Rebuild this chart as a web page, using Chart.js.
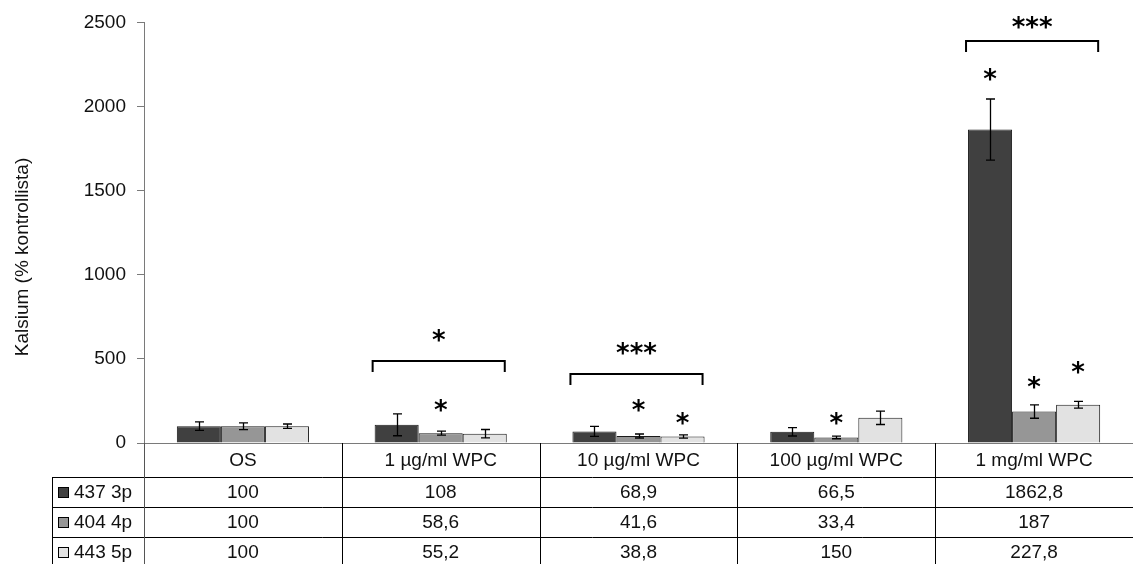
<!DOCTYPE html>
<html>
<head>
<meta charset="utf-8">
<script src="https://cdn.jsdelivr.net/npm/chart.js@4.4.1/dist/chart.umd.min.js"></script>
<style>
html,body{margin:0;padding:0;background:#fff;}
#wrap{width:1133px;height:564px;}
</style>
</head>
<body>
<div id="wrap"><canvas id="c" width="1133" height="564"></canvas></div>
<script>
// ---- data ----
const categories = ['OS', '1 µg/ml WPC', '10 µg/ml WPC', '100 µg/ml WPC', '1 mg/ml WPC'];
const seriesNames = ['437 3p', '404 4p', '443 5p'];
const s437 = [100, 108, 68.9, 66.5, 1862.8];
const s404 = [100, 58.6, 41.6, 33.4, 187];
const s443 = [100, 55.2, 38.8, 150, 227.8];
const err437 = [25, 65, 30, 25, 182];
const err404 = [20, 12, 12, 8, 40];
const err443 = [13, 25, 10, 40, 20];
const yTicks = [0, 500, 1000, 1500, 2000, 2500];
// significance stars above single bars (value level of the star centre)
const starLevel437 = [null, null, null, null, 2193];
const starLevel404 = [null, 225, 225, 148, 360];
const starLevel443 = [null, null, 148, null, 449];
// group brackets
const bracketLevels = [null, 490, 413, null, 2388];
const bracketLabels = ['', '*', '***', '', '***'];
const bracketLabelLevels = [null, 638, 561, null, 2500];
const yTitle = 'Kalsium (% kontrollista)';

const seriesValues = [s437, s404, s443];
const seriesErr = [err437, err404, err443];
const starLevels = [starLevel437, starLevel404, starLevel443];
const colors = ['#404040', '#969696', '#e2e2e2'];
const FONT = '"Liberation Sans", Arial, sans-serif';
const fmt = v => String(v).replace('.', ',');

function starText(ctx, txt, x, cy) {
  ctx.save();
  ctx.font = 'bold 26px "DejaVu Sans", sans-serif';
  ctx.fillStyle = '#000';
  ctx.textAlign = 'center';
  ctx.textBaseline = 'alphabetic';
  const m = ctx.measureText(txt);
  const base = cy - (m.actualBoundingBoxDescent - m.actualBoundingBoxAscent) / 2;
  ctx.fillText(txt, x, base);
  ctx.restore();
}

const overlay = {
  id: 'overlay',
  afterDatasetsDraw(chart) {
    const ctx = chart.ctx;
    const ys = chart.scales.y;
    // error bars
    ctx.save();
    ctx.strokeStyle = '#000';
    ctx.lineWidth = 1.3;
    seriesValues.forEach((vals, d) => {
      const meta = chart.getDatasetMeta(d);
      vals.forEach((v, i) => {
        const bar = meta.data[i];
        const x = Math.round(bar.x) + 0.5;
        const yt = ys.getPixelForValue(v + seriesErr[d][i]);
        const yb = ys.getPixelForValue(Math.max(0, v - seriesErr[d][i]));
        ctx.beginPath();
        ctx.moveTo(x, yt); ctx.lineTo(x, yb);
        ctx.moveTo(x - 4.5, yt); ctx.lineTo(x + 4.5, yt);
        ctx.moveTo(x - 4.5, yb); ctx.lineTo(x + 4.5, yb);
        ctx.stroke();
      });
    });
    ctx.restore();
    // stars on bars
    starLevels.forEach((lv, d) => {
      const meta = chart.getDatasetMeta(d);
      lv.forEach((l, i) => {
        if (l == null) return;
        starText(ctx, '*', meta.data[i].x, ys.getPixelForValue(l));
      });
    });
    // brackets
    ctx.save();
    ctx.strokeStyle = '#000';
    ctx.lineWidth = 2;
    bracketLevels.forEach((l, i) => {
      if (l == null) return;
      const b0 = chart.getDatasetMeta(0).data[i];
      const b2 = chart.getDatasetMeta(2).data[i];
      const x0 = b0.x - b0.width / 2 - 2;
      const x1 = b2.x + b2.width / 2 - 2;
      const y = Math.round(ys.getPixelForValue(l));
      ctx.beginPath();
      ctx.moveTo(x0, y + 11); ctx.lineTo(x0, y); ctx.lineTo(x1, y); ctx.lineTo(x1, y + 11);
      ctx.stroke();
      starText(ctx, bracketLabels[i], (x0 + x1) / 2, ys.getPixelForValue(bracketLabelLevels[i]));
    });
    ctx.restore();
  },
  afterDraw(chart) {
    const ctx = chart.ctx;
    const ca = chart.chartArea;
    const n = categories.length;
    const cw = (ca.right - ca.left) / n;
    const top = Math.round(ca.bottom);
    const rowH = 30;
    const headH = 34;
    const legLeft = 52;
    const bottom = chart.height;
    ctx.save();
    // y-axis title
    ctx.save();
    ctx.translate(23, 257);
    ctx.rotate(-Math.PI / 2);
    ctx.font = '19px ' + FONT;
    ctx.fillStyle = '#111';
    ctx.textAlign = 'center';
    ctx.textBaseline = 'middle';
    ctx.fillText(yTitle, 0, 0);
    ctx.restore();
    // table lines
    ctx.strokeStyle = '#000';
    ctx.lineWidth = 1;
    ctx.beginPath();
    for (let r = 0; r < 3; r++) {
      const y = top + headH + r * rowH + 0.5;
      ctx.moveTo(legLeft, y); ctx.lineTo(ca.right, y);
    }
    ctx.moveTo(legLeft + 0.5, top + headH); ctx.lineTo(legLeft + 0.5, bottom);
    for (let i = 1; i < n; i++) {
      const x = Math.round(ca.left + i * cw) + 0.5;
      ctx.moveTo(x, top); ctx.lineTo(x, bottom);
    }
    ctx.stroke();
    ctx.strokeStyle = '#555';
    ctx.beginPath();
    ctx.moveTo(Math.round(ca.left) + 0.5, top); ctx.lineTo(Math.round(ca.left) + 0.5, bottom);
    ctx.stroke();
    // header text
    ctx.font = '19px ' + FONT;
    ctx.fillStyle = '#111';
    ctx.textAlign = 'center';
    ctx.textBaseline = 'middle';
    categories.forEach((c, i) => {
      ctx.fillText(c, ca.left + (i + 0.5) * cw, top + headH / 2 + 1);
    });
    // rows
    seriesValues.forEach((vals, d) => {
      const cy = top + headH + d * rowH + rowH / 2 + 1;
      ctx.textAlign = 'center';
      vals.forEach((v, i) => {
        ctx.fillText(fmt(v), ca.left + (i + 0.5) * cw, cy);
      });
      // legend key
      ctx.fillStyle = colors[d];
      ctx.fillRect(58, cy - 6, 10, 10);
      ctx.strokeStyle = '#000';
      ctx.strokeRect(58.5, cy - 5.5, 10, 10);
      ctx.fillStyle = '#111';
      ctx.textAlign = 'left';
      ctx.fillText(seriesNames[d], 74, cy);
    });
    ctx.restore();
  }
};

new Chart(document.getElementById('c'), {
  type: 'bar',
  data: {
    labels: categories,
    datasets: seriesNames.map((name, d) => ({
      label: name,
      data: seriesValues[d],
      backgroundColor: colors[d],
      borderColor: '#1a1a1a',
      borderWidth: 1,
      categoryPercentage: 0.668,
      barPercentage: 1.0
    }))
  },
  options: {
    responsive: false,
    animation: false,
    devicePixelRatio: 1,
    layout: { padding: { top: 20, bottom: 121, left: 0, right: 0 } },
    plugins: { legend: { display: false }, tooltip: { enabled: false } },
    scales: {
      x: {
        grid: { display: false },
        ticks: { display: false },
        border: { color: '#7a7a7a', width: 1 },
        afterFit(s) { s.height = 0; }
      },
      y: {
        min: 0, max: 2500,
        afterBuildTicks(s) { s.ticks = yTicks.map(v => ({ value: v })); },
        ticks: {
          font: { family: FONT, size: 19 }, color: '#111', padding: 11,
          callback: v => String(v)
        },
        grid: { drawOnChartArea: false, tickLength: 7, color: '#7a7a7a' },
        border: { color: '#7a7a7a', width: 1 },
        afterFit(s) { s.width = 144; }
      }
    }
  },
  plugins: [overlay]
});
</script>
</body>
</html>
